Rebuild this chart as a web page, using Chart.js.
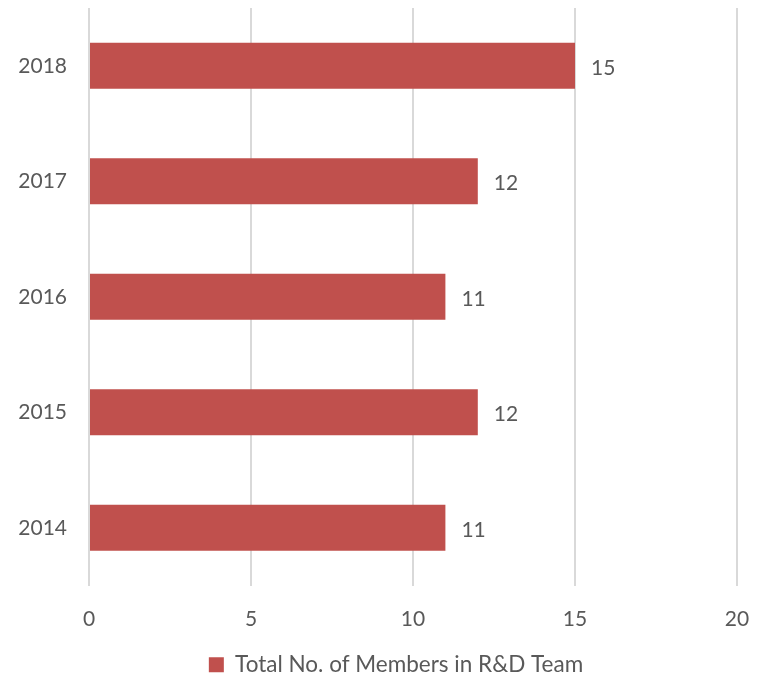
<!DOCTYPE html>
<html lang="en">
<head>
  <meta charset="UTF-8">
  <title>Total No. of Members in R&amp;D Team</title>
  <script src="https://cdn.jsdelivr.net/npm/chart.js"></script>
  <style>
    html, body { margin: 0; padding: 0; background: #fff; }
    #wrap { width: 762px; height: 683px; position: relative; }
  </style>
</head>
<body>
  <div id="wrap"><canvas id="barChart"></canvas></div>

  <script>
    const years = ['2018', '2017', '2016', '2015', '2014'];
    const members = [15, 12, 11, 12, 11];
    const xTicks = [0, 5, 10, 15, 20];

    const barColor = '#C0504D';
    const textColor = '#595959';
    const fontFamily = 'Lato, "Open Sans", sans-serif';

    // value labels at the end of each bar
    const valueLabels = {
      id: 'valueLabels',
      afterDatasetsDraw(chart) {
        const ctx = chart.ctx;
        const meta = chart.getDatasetMeta(0);
        ctx.save();
        ctx.font = '21px ' + fontFamily;
        ctx.fillStyle = textColor;
        ctx.textAlign = 'left';
        ctx.textBaseline = 'middle';
        meta.data.forEach((bar, i) => {
          ctx.fillText(members[i], bar.x + 16, bar.y + 2);
        });
        ctx.restore();
      }
    };

    // nudge the legend a little left and down, like the original
    const legendShift = {
      id: 'legendShift',
      afterLayout(chart) {
        chart.legend.left -= 17;
        chart.legend.right -= 17;
        chart.legend.top += 3;
        chart.legend.bottom += 3;
      }
    };

    new Chart(document.getElementById('barChart'), {
      type: 'bar',
      data: {
        labels: years,
        datasets: [{
          label: 'Total No. of Members in R&D Team',
          data: members,
          backgroundColor: barColor,
          borderWidth: 0,
          categoryPercentage: 1,
          barPercentage: 0.4
        }]
      },
      options: {
        indexAxis: 'y',
        responsive: true,
        maintainAspectRatio: false,
        animation: false,
        layout: { padding: { top: 8, right: 25, left: 0, bottom: 0 } },
        plugins: {
          legend: {
            position: 'bottom',
            fullSize: false,
            labels: {
              color: textColor,
              font: { family: fontFamily, size: 22.5 },
              boxWidth: 15,
              boxHeight: 15,
              padding: 6
            }
          },
          title: { display: false },
          tooltip: { enabled: false }
        },
        scales: {
          x: {
            min: 0,
            max: 20,
            afterBuildTicks: (axis) => { axis.ticks = xTicks.map(v => ({ value: v })); },
            afterFit: (axis) => { axis.height = 59; axis.paddingLeft = 0; axis.paddingRight = 0; },
            grid: { color: '#D9D9D9', lineWidth: 2, drawTicks: false },
            border: { display: false },
            ticks: {
              color: textColor,
              font: { family: fontFamily, size: 21 },
              padding: 21
            }
          },
          y: {
            afterFit: (axis) => { axis.width = 89; axis.paddingTop = 0; axis.paddingBottom = 0; },
            grid: { display: false, drawTicks: false },
            border: { display: false },
            ticks: {
              color: textColor,
              font: { family: fontFamily, size: 21 },
              padding: 22
            }
          }
        }
      },
      plugins: [valueLabels, legendShift]
    });
  </script>
</body>
</html>
